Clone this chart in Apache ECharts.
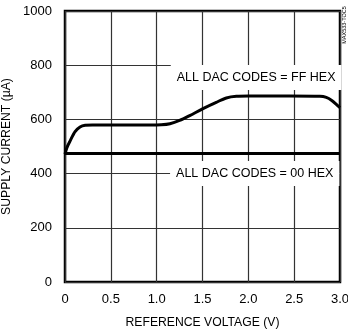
<!DOCTYPE html>
<html>
<head>
<meta charset="utf-8">
<script src="https://cdn.jsdelivr.net/npm/echarts@6/dist/echarts.min.js"></script>
<style>
html,body{margin:0;padding:0;background:#fff;}
#c{width:348px;height:331px;}
</style>
</head>
<body>
<div id="c"></div>
<script>
// Data
const xTickLabels = ['0', '0.5', '1.0', '1.5', '2.0', '2.5', '3.0'];
const yTickLabels = ['0', '200', '400', '600', '800', '1000'];
const ffVoltage = [0, 0.02, 0.055, 0.11, 0.164, 0.22, 0.3, 0.5, 0.8, 0.93, 1.05, 1.145, 1.25, 1.36, 1.5, 1.65, 1.76, 1.87, 2.0, 2.45, 2.78, 2.85, 2.91, 2.96, 3.0];
const ffCurrent = [472, 495, 520, 555, 572, 578, 579, 579, 579, 579, 580, 584, 596, 614, 639, 663, 679, 685, 686, 686, 685, 681, 670, 655, 643];
const zeroVoltage = [0, 3.0];
const zeroCurrent = [474, 474];
const labelFF = 'ALL DAC CODES = FF HEX';
const label00 = 'ALL DAC CODES = 00 HEX';
const labelFFPos = [2.085, 755];
const label00Pos = [2.07, 400];
const xName = 'REFERENCE VOLTAGE (V)';
const yName = 'SUPPLY CURRENT (µA)';
const figId = 'MAX533-TOC5';

const FONT = "'Liberation Sans', Arial, sans-serif";
const chart = echarts.init(document.getElementById('c'), null, {renderer: 'canvas'});

const pairs = (xs, ys) => xs.map((x, i) => [x, ys[i]]);

chart.setOption({
  animation: false,
  backgroundColor: '#fff',
  grid: {left: 65, right: 8, top: 11, bottom: 49, containLabel: false, outerBoundsMode: 'none',
    show: true, borderColor: '#000', borderWidth: 2.5, backgroundColor: 'transparent'},
  xAxis: {
    type: 'value', min: 0, max: 3, interval: 0.5,
    axisLine: {show: false}, axisTick: {show: false},
    splitLine: {show: true, lineStyle: {color: '#333', width: 1.2}},
    axisLabel: {color: '#000', fontFamily: FONT, fontSize: 13, margin: 11,
      formatter: (v) => xTickLabels[Math.round(v / 0.5)]},
    name: xName, nameLocation: 'middle', nameGap: 35,
    nameTextStyle: {color: '#000', fontFamily: FONT, fontSize: 12.2}
  },
  yAxis: {
    type: 'value', min: 0, max: 1000, interval: 200,
    axisLine: {show: false}, axisTick: {show: false},
    splitLine: {show: true, lineStyle: {color: '#333', width: 1.2}},
    axisLabel: {color: '#000', fontFamily: FONT, fontSize: 13, margin: 13,
      formatter: (v) => yTickLabels[Math.round(v / 200)]},
    name: yName, nameLocation: 'middle', nameGap: 45,
    nameTextStyle: {color: '#000', fontFamily: FONT, fontSize: 12.2}
  },
  series: [
    {
      type: 'line', data: pairs(ffVoltage, ffCurrent), smooth: 0.3,
      symbol: 'none', lineStyle: {color: '#000', width: 3}, z: 5
    },
    {
      type: 'line', data: pairs(zeroVoltage, zeroCurrent),
      symbol: 'none', lineStyle: {color: '#000', width: 3}, z: 5,
      markPoint: {
        symbol: 'rect', symbolSize: 0, silent: true,
        label: {show: true, position: 'inside', color: '#000', fontFamily: FONT, fontSize: 12.5,
          backgroundColor: '#fff', padding: [6, 6, 6, 6]},
        data: [
          {coord: labelFFPos, value: labelFF, label: {formatter: labelFF}},
          {coord: label00Pos, value: label00, label: {formatter: label00}}
        ]
      }
    }
  ],
  graphic: [{
    type: 'text', x: 347, y: 25, rotation: Math.PI / 2,
    style: {text: figId, fontFamily: FONT, fontSize: 5.5, fill: '#000', align: 'center', verticalAlign: 'bottom'}
  }]
});
</script>
</body>
</html>
